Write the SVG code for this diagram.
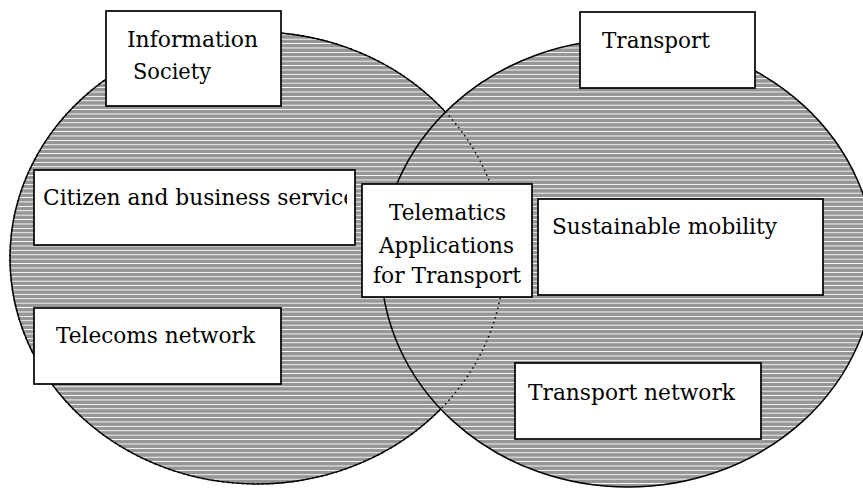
<svg xmlns="http://www.w3.org/2000/svg" width="863" height="488" viewBox="0 0 863 488">
  <style>
    .box { fill: #ffffff; stroke: #000000; stroke-width: 1.7; }
    .lbl { font-family: "DejaVu Serif", "Liberation Serif", serif; font-size: 23px; fill: #000000; }
    .set { fill: url(#hatch); stroke: #000000; stroke-width: 1.5; }
    .dotted { fill: none; stroke: #000000; stroke-width: 1.5; stroke-dasharray: 1.5 3.5; }
  </style>
  <defs>
    <pattern id="hatch" patternUnits="userSpaceOnUse" x="0" y="0" width="10" height="4.4">
      <rect x="0" y="0" width="10" height="4.4" fill="#969696" shape-rendering="crispEdges"/>
      <rect x="0" y="3.2" width="10" height="1.1" fill="#ffffff" shape-rendering="crispEdges"/>
    </pattern>
    <clipPath id="clipCitizen">
      <rect x="34" y="170" width="313" height="75"/>
    </clipPath>
  </defs>
  <rect x="0" y="0" width="863" height="488" fill="#ffffff"/>

  <g id="sets">
    <ellipse id="set-information-society" class="set" cx="257" cy="258" rx="247" ry="226"/>
    <ellipse id="set-transport" class="set" cx="628" cy="263" rx="247" ry="224"/>
    <ellipse class="dotted" cx="257" cy="258" rx="247" ry="226"/>
  </g>

  <g id="node-information-society">
    <rect class="box" x="106" y="11" width="175" height="95"/>
    <text class="lbl" x="127" y="47" textLength="131" lengthAdjust="spacingAndGlyphs">Information</text>
    <text class="lbl" x="133" y="79" textLength="78" lengthAdjust="spacingAndGlyphs">Society</text>
  </g>

  <g id="node-transport">
    <rect class="box" x="580" y="12" width="175" height="76"/>
    <text class="lbl" x="602" y="48" textLength="108" lengthAdjust="spacingAndGlyphs">Transport</text>
  </g>

  <g id="node-citizen-business">
    <rect class="box" x="34" y="170" width="321" height="75"/>
    <g clip-path="url(#clipCitizen)">
      <text class="lbl" x="43" y="205" textLength="313" lengthAdjust="spacingAndGlyphs">Citizen and business service</text>
    </g>
  </g>

  <g id="node-telecoms-network">
    <rect class="box" x="34" y="308" width="247" height="76"/>
    <text class="lbl" x="56" y="343" textLength="199" lengthAdjust="spacingAndGlyphs">Telecoms network</text>
  </g>

  <g id="node-telematics">
    <rect class="box" x="362" y="184" width="170" height="113"/>
    <text class="lbl" x="389" y="220" textLength="117" lengthAdjust="spacingAndGlyphs">Telematics</text>
    <text class="lbl" x="379" y="253" textLength="135" lengthAdjust="spacingAndGlyphs">Applications</text>
    <text class="lbl" x="373" y="283" textLength="148" lengthAdjust="spacingAndGlyphs">for Transport</text>
  </g>

  <g id="node-sustainable-mobility">
    <rect class="box" x="538" y="199" width="285" height="96"/>
    <text class="lbl" x="552" y="234" textLength="225" lengthAdjust="spacingAndGlyphs">Sustainable mobility</text>
  </g>

  <g id="node-transport-network">
    <rect class="box" x="515" y="363" width="246" height="76"/>
    <text class="lbl" x="528" y="400" textLength="207" lengthAdjust="spacingAndGlyphs">Transport network</text>
  </g>
</svg>
